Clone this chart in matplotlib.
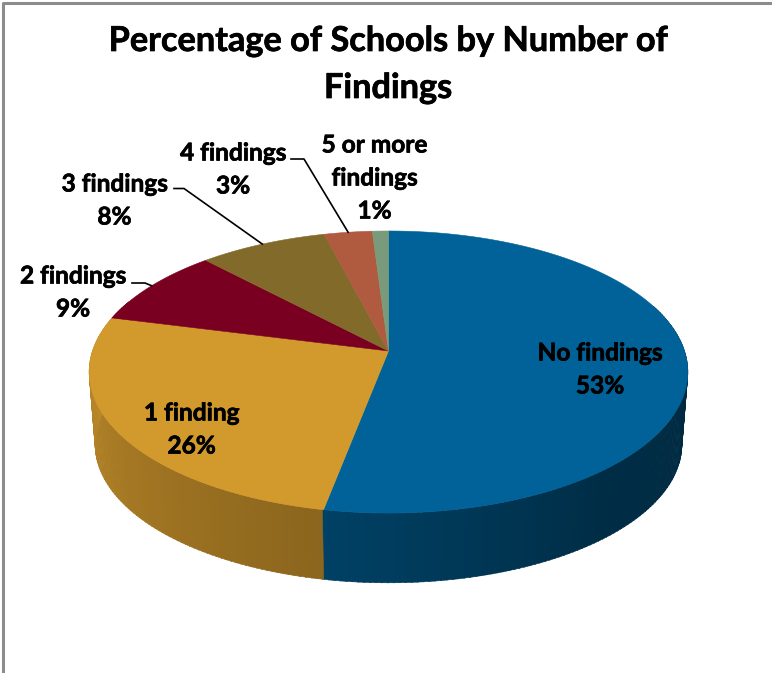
import numpy as np
import matplotlib
matplotlib.use("Agg")
import matplotlib.pyplot as plt
import matplotlib.patheffects as pe
from matplotlib.patches import Polygon

categories = ["No findings", "1 finding", "2 findings", "3 findings", "4 findings", "5 or more\nfindings"]
percentages = [53, 26, 9, 8, 3, 1]
colors = ["#006298", "#D2992D", "#7A0021", "#826B2A", "#B05A40", "#7A9A7C"]

# pie geometry, in pixels
CX, CY = 388.5, 351
A, B, K = 296, 137.9, 0.149
DEPTH = 73
BOTTOM_SCALE = 0.98


def rim(theta, scale=1.0, drop=0.0):
    # theta is clockwise from the back of the pie, in degrees
    t = np.radians(theta)
    x, y = np.sin(t), np.cos(t)
    d = 1 + K * y
    return CX + scale * A * x / d, CY + drop - scale * B * y / d


def wall_shade(theta):
    # the side gets lighter going round towards the left
    return np.interp(theta, [90, 140, 190, 284], [0.42, 0.46, 0.66, 0.92])


def slice_color(theta, edges):
    i = np.searchsorted(edges, theta % 360, side="right") - 1
    return colors[min(i, len(colors) - 1)]


edges = np.concatenate([[0], np.cumsum(percentages)]) * 3.6

fig = plt.figure(figsize=(7.72, 6.73), dpi=100)
ax = fig.add_axes([0, 0, 1, 1])
ax.set_xlim(0, 772)
ax.set_ylim(673, 0)
ax.axis("off")

# chart frame, only the top and left sides are in view
ax.plot([3, 3, 772], [673, 2.5, 2.5], color="#8C8C8C", lw=2.2, solid_capstyle="butt")

# side wall
for th in np.arange(70, 292, 1.0):
    th2 = th + 1.2
    xs1, ys1 = rim(np.array([th, th2]))
    xs2, ys2 = rim(np.array([th2, th]), scale=BOTTOM_SCALE, drop=DEPTH)
    rgb = np.array(matplotlib.colors.to_rgb(slice_color(th + 0.5, edges))) * wall_shade(th + 0.5)
    ax.add_patch(Polygon(np.column_stack([np.r_[xs1, xs2], np.r_[ys1, ys2]]),
                         facecolor=rgb, edgecolor=rgb, lw=0.4, zorder=2))

# top faces
for i, color in enumerate(colors):
    ths = np.linspace(edges[i], edges[i + 1], 120)
    xs, ys = rim(ths)
    pts = np.column_stack([np.r_[CX, xs], np.r_[CY, ys]])
    ax.add_patch(Polygon(pts, facecolor=color, edgecolor=color, lw=0.4, zorder=3))

font = "Lato"
heavier = [pe.withStroke(linewidth=0.5, foreground="black")]

ax.text(388, 41, "Percentage of Schools by Number of", ha="center", va="center",
        fontsize=24.7, fontweight="bold", family=font, zorder=5, path_effects=heavier)
ax.text(388, 88, "Findings", ha="center", va="center",
        fontsize=24.7, fontweight="bold", family=font, zorder=5, path_effects=heavier)

label_pos = [(600, 353), (191.5, 413), (73, 276), (114.5, 184), (233, 153), (374.5, 145)]
LINE = 33
for name, pct, (lx, ly) in zip(categories, percentages, label_pos):
    lines = name.split("\n") + [f"{pct}%"]
    for j, line in enumerate(lines):
        ax.text(lx, ly + j * LINE, line, ha="center", va="center", fontsize=17.6,
                fontweight="bold", family=font, zorder=5, path_effects=heavier)

# leader lines run from the label to the rim at the middle of the slice
leader_starts = {2: [(132, 283), (145, 283)], 3: [(174, 188.5), (184, 188.5)], 4: [(291, 159), (304, 159)]}
for i, pts in leader_starts.items():
    mx, my = rim((edges[i] + edges[i + 1]) / 2)
    xs = [p[0] for p in pts] + [mx]
    ys = [p[1] for p in pts] + [my]
    ax.plot(xs, ys, color="black", lw=1.2, zorder=4)

fig.savefig("out.png", dpi=100)
